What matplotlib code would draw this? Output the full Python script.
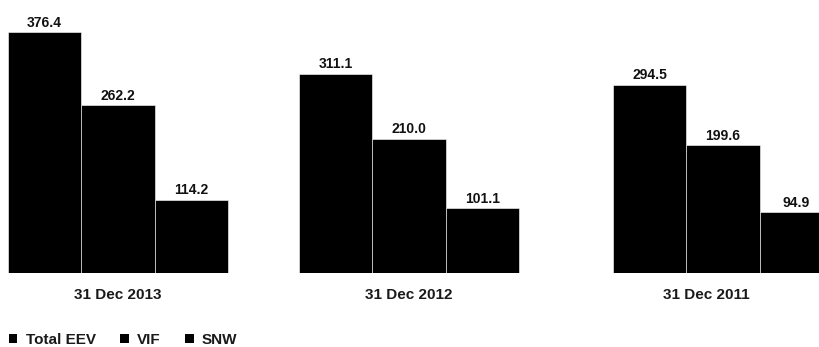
import matplotlib
matplotlib.use("Agg")
import matplotlib.pyplot as plt
from matplotlib.patches import Patch

# ---- data ----
categories = ["31 Dec 2013", "31 Dec 2012", "31 Dec 2011"]
series_names = ["Total EEV", "VIF", "SNW"]
total_eev = [376.4, 311.1, 294.5]
vif = [262.2, 210.0, 199.6]
snw = [114.2, 101.1, 94.9]
value_labels = [["376.4", "262.2", "114.2"],
                ["311.1", "210.0", "101.1"],
                ["294.5", "199.6", "94.9"]]

# ---- layout (in bar-width units) ----
group_starts = [0.0, 3.97, 8.25]
label_shift = [0.0, 0.0, -0.23]
bar_w = 1.0
px_per_unit = 73.33

plt.rcParams['font.family'] = ['Liberation Sans', 'DejaVu Sans']

fig = plt.figure(figsize=(8.19, 3.47), dpi=100)
ax = fig.add_axes([0, 74 / 347, 1, 273 / 347])
ax.set_xlim(-8 / px_per_unit, 811 / px_per_unit)
ax.set_ylim(0, 273 / 0.6395)
ax.axis('off')

series = [total_eev, vif, snw]
for gi, g in enumerate(group_starts):
    for si, vals in enumerate(series):
        x = g + si * bar_w + bar_w / 2
        ax.bar(x, vals[gi], width=bar_w, color='black', edgecolor='white',
               linewidth=0.4)
        ax.annotate(value_labels[gi][si], xy=(x, vals[gi]), xytext=(0, 4),
                    textcoords='offset points', ha='center', va='baseline',
                    fontsize=10, fontweight='bold', color='#111111')
    cx = g + 1.5 * bar_w + label_shift[gi]
    ax.annotate(categories[gi], xy=(cx, 0), xytext=(0, -16),
                textcoords='offset points', ha='center', va='center',
                fontsize=11, fontweight='bold', color='#1a1a1a',
                annotation_clip=False)

handles = [Patch(facecolor='black', edgecolor='none') for _ in series_names]
leg = fig.legend(handles, series_names, loc='center left',
                 bbox_to_anchor=(9 / 819, 7 / 347), ncol=3, frameon=False,
                 prop={'size': 11, 'weight': 'bold'},
                 handlelength=0.55, handleheight=0.55,
                 handletextpad=0.55, columnspacing=1.6, borderpad=0,
                 borderaxespad=0, labelcolor='#1a1a1a')

fig.savefig("out.png", dpi=100)
